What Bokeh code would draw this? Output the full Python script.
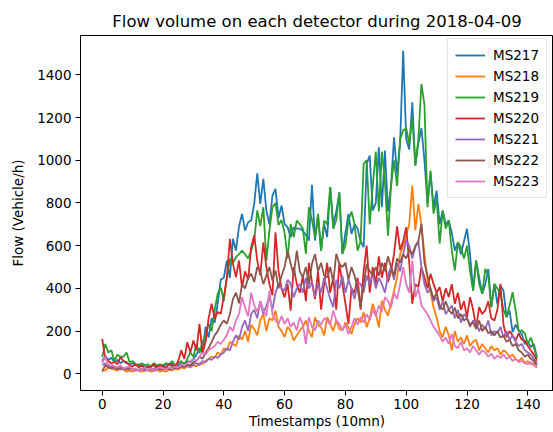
from bokeh.plotting import figure
from bokeh.models import FixedTicker, Range1d, Legend, LegendItem
from bokeh.embed import file_html
from bokeh.resources import INLINE

timestamps = list(range(144))

ms217 = [60, 85, 65, 75, 55, 65, 50, 60, 50, 45,
         50, 40, 45, 35, 40, 30, 35, 40, 30, 40,
         35, 45, 40, 50, 35, 40, 50, 45, 60, 55,
         70, 90, 120, 100, 220, 170, 260, 240, 330, 440,
         450, 530, 450, 632, 577, 690, 749, 671, 710, 718,
         796, 939, 796, 913, 765, 700, 835, 866, 730, 788,
         702, 686, 640, 686, 680, 680, 670, 650, 624, 885,
         624, 741, 577, 700, 640, 874, 700, 760, 850, 560,
         660, 749, 655, 700, 680, 620, 593, 983, 1022, 765,
         800, 1061, 780, 1045, 760, 880, 1107, 937, 1080, 1513,
         1100, 1050, 1271, 975, 1080, 1150, 1000, 800, 940, 780,
         858, 700, 764, 700, 718, 660, 577, 616, 560, 620,
         679, 560, 390, 530, 450, 375, 420, 491, 312, 421,
         325, 413, 390, 265, 296, 195, 230, 203, 187, 140,
         150, 125, 140, 78]

ms218 = [20, 15, 30, 25, 20, 15, 25, 20, 10, 15,
         10, 20, 15, 10, 15, 20, 10, 15, 20, 10,
         15, 10, 20, 15, 25, 20, 30, 25, 35, 30,
         40, 35, 50, 45, 60, 70, 80, 75, 100, 90,
         120, 110, 150, 140, 130, 180, 160, 200, 150, 230,
         210, 180, 250, 281, 200, 260, 250, 296, 220, 200,
         172, 220, 200, 156, 180, 203, 220, 250, 200, 172,
         265, 230, 218, 180, 265, 234, 200, 250, 210, 203,
         240, 218, 187, 234, 260, 240, 288, 218, 260, 328,
         281, 218, 343, 300, 273, 330, 390, 450, 560, 600,
         650, 702, 881, 671, 796, 700, 562, 437, 380, 312,
         265, 200, 171, 220, 180, 110, 200, 150, 170, 140,
         180, 130, 150, 160, 110, 140, 120, 100, 130, 110,
         120, 90, 110, 100, 80, 90, 70, 60, 75, 50,
         60, 45, 50, 30]

ms219 = [80, 140, 100, 110, 60, 90, 80, 80, 100, 55,
         60, 45, 40, 50, 40, 45, 35, 50, 40, 45,
         40, 50, 45, 60, 40, 50, 60, 45, 70, 100,
         80, 140, 96, 150, 180, 234, 200, 300, 375, 405,
         340, 450, 538, 520, 546, 560, 577, 560, 540, 577,
         624, 765, 692, 780, 530, 670, 780, 800, 697, 720,
         660, 540, 702, 640, 718, 700, 680, 562, 780, 720,
         640, 749, 577, 718, 700, 874, 678, 720, 850, 562,
         600, 718, 760, 700, 577, 620, 983, 1000, 700, 880,
         1040, 760, 1040, 900, 647, 880, 1000, 880, 1100, 1139,
         1150, 1078, 1200, 975, 1100, 1357, 1260, 780, 952, 750,
         820, 610, 764, 680, 718, 577, 484, 616, 593, 540,
         600, 480, 390, 530, 420, 375, 491, 460, 312, 421,
         400, 374, 300, 265, 320, 382, 296, 200, 203, 190,
         140, 170, 125, 72]

ms220 = [164, 70, 60, 50, 55, 45, 78, 60, 55, 40,
         34, 45, 30, 40, 25, 35, 30, 45, 30, 40,
         35, 30, 45, 40, 35, 60, 110, 70, 148, 100,
         156, 110, 234, 96, 150, 260, 328, 257, 290, 281,
         360, 450, 632, 516, 452, 530, 405, 480, 440, 593,
         648, 530, 462, 615, 500, 420, 368, 663, 480, 400,
         358, 420, 296, 500, 420, 380, 460, 340, 520, 430,
         350, 480, 300, 420, 520, 380, 450, 300, 520, 420,
         330, 234, 400, 380, 450, 300, 480, 600, 380, 500,
         420, 550, 450, 520, 430, 480, 560, 690, 580, 620,
         686, 520, 328, 420, 406, 500, 452, 400, 468, 420,
         380, 406, 340, 400, 360, 420, 328, 380, 300, 340,
         265, 359, 300, 218, 312, 280, 297, 340, 260, 250,
         300, 421, 230, 172, 200, 180, 156, 190, 160, 156,
         130, 109, 90, 62]

ms221 = [40, 50, 30, 35, 25, 30, 20, 25, 30, 20,
         25, 15, 20, 25, 15, 20, 25, 15, 20, 25,
         20, 30, 25, 20, 30, 25, 35, 30, 40, 35,
         45, 50, 40, 60, 55, 70, 65, 80, 75, 90,
         100, 120, 110, 150, 180, 160, 220, 250, 200, 280,
         300, 260, 340, 280, 320, 360, 300, 380, 420, 400,
         390, 440, 420, 358, 400, 421, 380, 450, 400, 430,
         360, 420, 380, 450, 400, 350, 312, 440, 400, 460,
         380, 440, 400, 350, 430, 421, 380, 460, 420, 470,
         400, 450, 420, 380, 460, 500, 440, 520, 480, 560,
         624, 600, 540, 593, 620, 500, 420, 380, 400, 340,
         360, 300, 340, 280, 300, 320, 260, 300, 240, 280,
         260, 220, 250, 240, 200, 230, 210, 250, 180, 200,
         190, 220, 170, 200, 160, 180, 150, 130, 140, 110,
         100, 90, 70, 50]

ms222 = [10, 40, 30, 25, 35, 20, 30, 25, 20, 30,
         20, 25, 15, 20, 25, 15, 20, 25, 30, 20,
         25, 30, 20, 35, 25, 30, 40, 35, 45, 40,
         55, 60, 80, 70, 100, 120, 150, 180, 200, 230,
         250, 234, 280, 350, 380, 330, 420, 400, 450, 470,
         430, 500, 480, 420, 460, 500, 437, 484, 400, 460,
         500, 577, 515, 460, 577, 480, 452, 500, 420, 515,
         560, 480, 520, 460, 452, 500, 430, 562, 515, 500,
         520, 440, 500, 460, 400, 312, 420, 515, 480, 460,
         500, 460, 520, 480, 550, 500, 460, 540, 520, 560,
         540, 580, 560, 600, 620, 702, 520, 460, 400, 350,
         380, 320, 300, 340, 300, 280, 310, 260, 280, 250,
         260, 230, 240, 210, 250, 200, 220, 190, 200, 180,
         200, 170, 180, 150, 160, 130, 140, 110, 100, 80,
         90, 70, 60, 40]

ms223 = [50, 80, 40, 45, 35, 30, 40, 25, 30, 35,
         20, 25, 15, 20, 30, 15, 25, 20, 25, 30,
         25, 20, 30, 25, 35, 30, 45, 40, 50, 60,
         70, 60, 80, 100, 90, 110, 120, 130, 150, 140,
         160, 180, 220, 200, 250, 280, 359, 310, 270, 380,
         320, 290, 340, 300, 270, 390, 280, 250, 234, 270,
         234, 260, 220, 240, 203, 265, 230, 140, 265, 220,
         203, 250, 230, 260, 250, 230, 296, 250, 234, 203,
         230, 187, 220, 260, 230, 265, 240, 280, 250, 300,
         270, 320, 290, 359, 340, 310, 380, 350, 420, 500,
         420, 380, 531, 360, 400, 320, 300, 280, 250, 220,
         200, 180, 150, 170, 140, 187, 130, 120, 150, 109,
         120, 100, 130, 110, 90, 110, 100, 80, 95, 70,
         85, 75, 90, 70, 80, 60, 70, 55, 60, 50,
         45, 55, 40, 30]

series_names = ["MS217", "MS218", "MS219", "MS220", "MS221", "MS222", "MS223"]
series_values = [ms217, ms218, ms219, ms220, ms221, ms222, ms223]
colors = ["#1f77b4", "#ff7f0e", "#2ca02c", "#d62728", "#9467bd", "#8c564b", "#e377c2"]
x_ticks = [0, 20, 40, 60, 80, 100, 120, 140]
y_ticks = [0, 200, 400, 600, 800, 1000, 1200, 1400]

FONT = "DejaVu Sans"

p = figure(width=553, height=432, output_backend="svg", toolbar_location=None,
           x_range=Range1d(-7.14, 148.45), y_range=Range1d(-78, 1584),
           min_border_left=80, min_border_right=0, min_border_top=35,
           min_border_bottom=42,
           title="Flow volume on each detector during 2018-04-09")
p.background_fill_color = "white"
p.border_fill_color = "white"
p.outline_line_color = "black"
p.outline_line_width = 1
p.xgrid.visible = False
p.ygrid.visible = False

p.title.align = "center"
p.title.text_font = FONT
p.title.text_font_size = "16.5px"
p.title.text_font_style = "normal"
p.title.text_color = "#000000"
p.title.standoff = 9

for ax, ticks in ((p.xaxis[0], x_ticks), (p.yaxis[0], y_ticks)):
    ax.ticker = FixedTicker(ticks=ticks)
    ax.major_label_text_font = FONT
    ax.major_label_text_font_size = "13.5px"
    ax.major_label_text_color = "#000000"
    ax.axis_label_text_font = FONT
    ax.axis_label_text_font_size = "13.5px"
    ax.axis_label_text_font_style = "normal"
    ax.axis_label_text_color = "#000000"
    ax.axis_line_color = "black"
    ax.major_tick_line_color = "black"
    ax.major_tick_out = 5
    ax.major_tick_in = 0
    ax.minor_tick_line_color = None
    ax.major_label_standoff = 4

p.xaxis.axis_label = "Timestamps (10mn)"
p.yaxis.axis_label = "Flow (Vehicle/h)"
p.xaxis.major_label_standoff = 3
p.xaxis.axis_label_standoff = 1
p.yaxis.axis_label_standoff = 8

items = []
for name, ys, c in zip(series_names, series_values, colors):
    r = p.line(timestamps, ys, line_color=c, line_width=1.8)
    items.append(LegendItem(label=name, renderers=[r]))

legend = Legend(items=items, location=(367, 192))
legend.margin = 0
legend.padding = 7
legend.spacing = 3
legend.label_height = 18
legend.glyph_height = 18
legend.glyph_width = 30
legend.label_standoff = 8
legend.label_text_font = FONT
legend.label_text_font_size = "13.5px"
legend.label_text_color = "#000000"
legend.border_line_color = "#cccccc"
legend.border_line_width = 1
legend.background_fill_color = "white"
legend.background_fill_alpha = 0.8
p.add_layout(legend)

open("out.html", "w").write(file_html(p, INLINE))
